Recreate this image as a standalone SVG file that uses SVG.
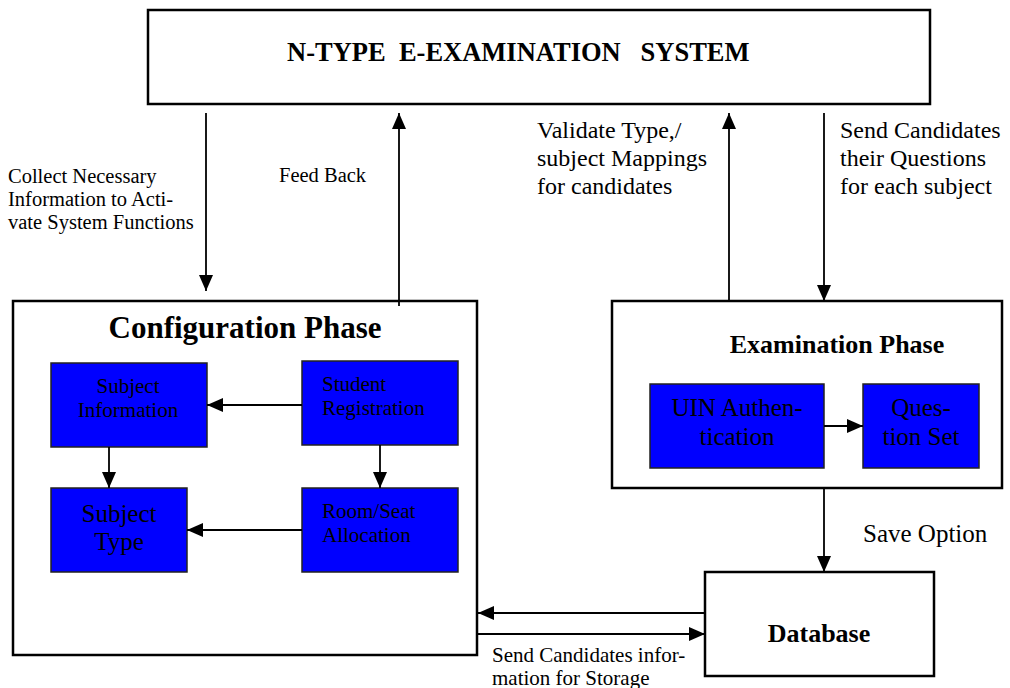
<svg xmlns="http://www.w3.org/2000/svg" width="1010" height="688" viewBox="0 0 1010 688">
<style>
.box{fill:#fff;stroke:#000;stroke-width:2.5}
.blue{fill:#0000FF;stroke:#222;stroke-width:1.5}
.t{font-family:"Liberation Serif","Times New Roman",serif;fill:#000}
.b{font-weight:bold}
.c{text-anchor:middle}
.ln{stroke:#000;stroke-width:1.8;fill:none;marker-end:url(#ah)}
</style>
<defs>
<marker id="ah" markerUnits="userSpaceOnUse" markerWidth="16" markerHeight="14" refX="16" refY="7" orient="auto">
<path d="M0,0 L16,7 L0,14 z" fill="#000"/>
</marker>
</defs>
<rect width="1010" height="688" fill="#fff"/>

<g id="system">
<rect class="box" x="148" y="10" width="782" height="94"/>
<text class="t b" x="287" y="61" font-size="26.5" xml:space="preserve">N-TYPE  E-EXAMINATION   SYSTEM</text>
</g>

<g id="config">
<rect class="box" x="13" y="301" width="464" height="354"/>
<text class="t b c" x="245" y="338" font-size="31">Configuration Phase</text>
</g>

<g id="subject-information">
<rect class="blue" x="51" y="363" width="156" height="84"/>
<text class="t c" x="128" y="393" font-size="21">Subject</text>
<text class="t c" x="128" y="417" font-size="21">Information</text>
</g>

<g id="student-registration">
<rect class="blue" x="302" y="361" width="156" height="84"/>
<text class="t" x="322" y="391" font-size="21">Student</text>
<text class="t" x="322" y="415" font-size="21">Registration</text>
</g>

<g id="subject-type">
<rect class="blue" x="51" y="488" width="136" height="84"/>
<text class="t c" x="119" y="522" font-size="25">Subject</text>
<text class="t c" x="119" y="550" font-size="25">Type</text>
</g>

<g id="room-seat">
<rect class="blue" x="302" y="488" width="156" height="84"/>
<text class="t" x="322" y="518" font-size="21">Room/Seat</text>
<text class="t" x="322" y="542" font-size="21">Allocation</text>
</g>

<g id="examination">
<rect class="box" x="612" y="301" width="390" height="187"/>
<text class="t b c" x="837" y="353" font-size="26">Examination Phase</text>
</g>

<g id="uin-authentication">
<rect class="blue" x="650" y="384" width="174" height="84"/>
<text class="t c" x="737" y="416" font-size="25">UIN Authen-</text>
<text class="t c" x="737" y="445" font-size="25">tication</text>
</g>

<g id="question-set">
<rect class="blue" x="863" y="384" width="116" height="84"/>
<text class="t c" x="921" y="416" font-size="25">Ques-</text>
<text class="t c" x="921" y="445" font-size="25">tion Set</text>
</g>

<g id="database">
<rect class="box" x="705" y="572" width="229" height="104"/>
<text class="t b c" x="819" y="642" font-size="26">Database</text>
</g>

<g id="connectors">
<line class="ln" x1="206" y1="113" x2="206" y2="291"/>
<line class="ln" x1="399" y1="306" x2="399" y2="113"/>
<line class="ln" x1="729" y1="301" x2="729" y2="113"/>
<line class="ln" x1="824" y1="113" x2="824" y2="301"/>
<line class="ln" x1="302" y1="405" x2="207" y2="405"/>
<line class="ln" x1="109" y1="447" x2="109" y2="488"/>
<line class="ln" x1="380" y1="445" x2="380" y2="488"/>
<line class="ln" x1="302" y1="530" x2="187" y2="530"/>
<line class="ln" x1="824" y1="426" x2="863" y2="426"/>
<line class="ln" x1="824" y1="488" x2="824" y2="572"/>
<line class="ln" x1="705" y1="613" x2="478" y2="613"/>
<line class="ln" x1="478" y1="634" x2="705" y2="634"/>
<text class="t" x="8" y="183" font-size="20.5">Collect Necessary</text>
<text class="t" x="8" y="206" font-size="20.5">Information to Acti-</text>
<text class="t" x="8" y="229" font-size="20.5">vate System Functions</text>
<text class="t" x="279" y="182" font-size="20.5">Feed Back</text>
<text class="t" x="537" y="138" font-size="24">Validate Type,/</text>
<text class="t" x="537" y="166" font-size="24">subject Mappings</text>
<text class="t" x="537" y="194" font-size="24">for candidates</text>
<text class="t" x="840" y="138" font-size="24">Send Candidates</text>
<text class="t" x="840" y="166" font-size="24">their Questions</text>
<text class="t" x="840" y="194" font-size="24">for each subject</text>
<text class="t" x="863" y="542" font-size="25">Save Option</text>
<text class="t" x="492" y="662" font-size="21">Send Candidates infor-</text>
<text class="t" x="492" y="685" font-size="21">mation for Storage</text>
</g>
</svg>
